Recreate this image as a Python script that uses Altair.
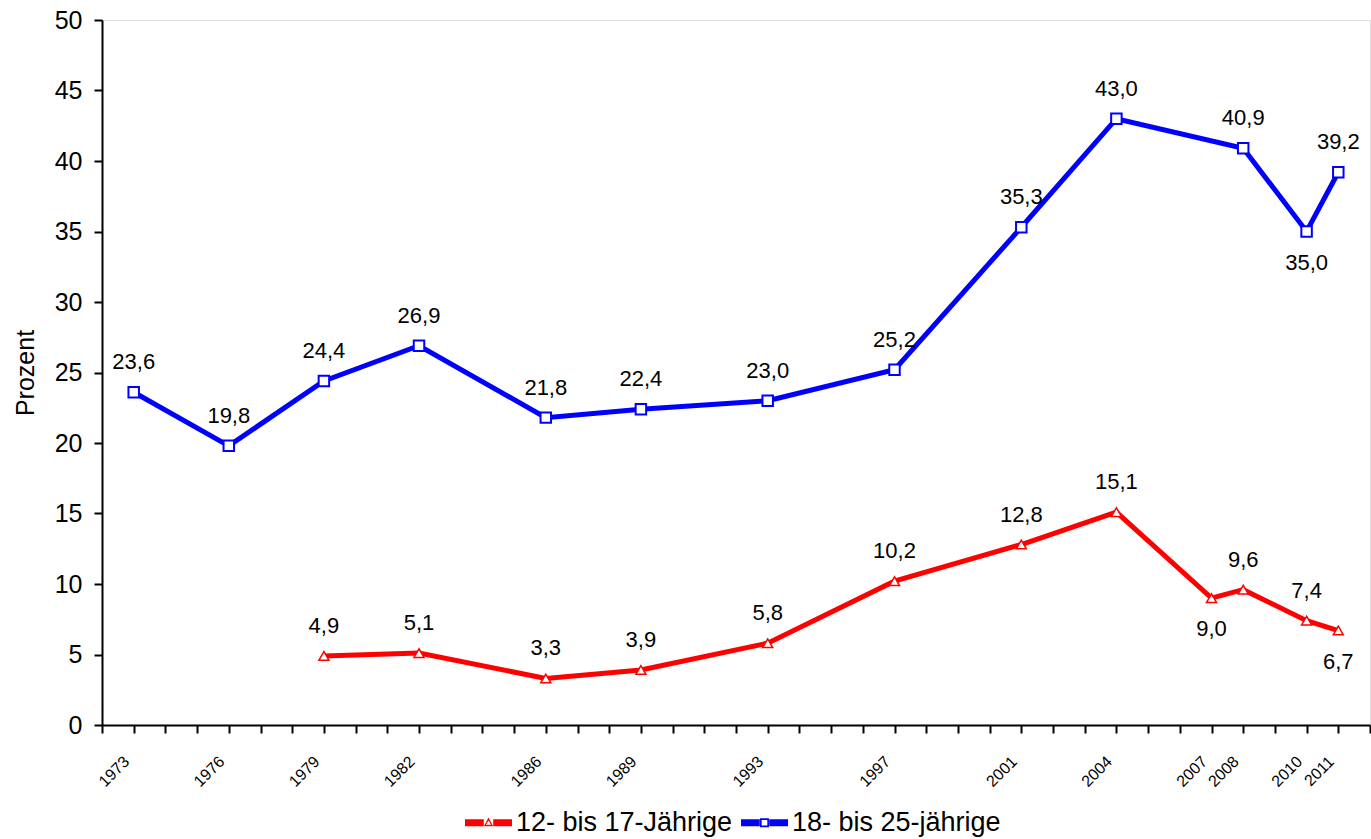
import altair as alt
import pandas as pd

# ---- data ----
SERIES = ["12- bis 17-Jährige", "18- bis 25-jährige"]
COLORS = ["#FF0000", "#0000FF"]

YEARS_1217 = [1979, 1982, 1986, 1989, 1993, 1997, 2001, 2004, 2007, 2008, 2010, 2011]
VALUES_1217 = [4.9, 5.1, 3.3, 3.9, 5.8, 10.2, 12.8, 15.1, 9.0, 9.6, 7.4, 6.7]

YEARS_1825 = [1973, 1976, 1979, 1982, 1986, 1989, 1993, 1997, 2001, 2004, 2008, 2010, 2011]
VALUES_1825 = [23.6, 19.8, 24.4, 26.9, 21.8, 22.4, 23.0, 25.2, 35.3, 43.0, 40.9, 35.0, 39.2]

# years whose value label sits below the point
BELOW_1217 = [2007, 2011]
BELOW_1825 = [2010]

TICK_LABEL_YEARS = [1973, 1976, 1979, 1982, 1986, 1989, 1993, 1997, 2001, 2004, 2007, 2008, 2010, 2011]
TICK_YEARS = list(range(1972, 2013))
Y_TICKS = list(range(0, 51, 5))

rows = []
for yr, v in zip(YEARS_1217, VALUES_1217):
    rows.append({"jahr": yr, "wert": v, "gruppe": SERIES[0], "lage": "unten" if yr in BELOW_1217 else "oben"})
for yr, v in zip(YEARS_1825, VALUES_1825):
    rows.append({"jahr": yr, "wert": v, "gruppe": SERIES[1], "lage": "unten" if yr in BELOW_1825 else "oben"})
df = pd.DataFrame(rows)

FONT = "Liberation Sans"

label_list = ",".join(str(y) for y in TICK_LABEL_YEARS)
x_enc = alt.X(
    "jahr:Q",
    scale=alt.Scale(domain=[1972, 2012], nice=False, zero=False),
    axis=alt.Axis(
        values=TICK_YEARS, format="d",
        labelExpr=f"indexof([{label_list}], datum.value) >= 0 ? datum.label : ''",
        labelAngle=-45, labelFontSize=16, labelFont=FONT, labelColor="black",
        labelPadding=20, labelOffset=-13, labelFlush=False, labelOverlap=False,
        tickSize=8, tickWidth=2, tickColor="black",
        domainWidth=2, domainColor="black", grid=False, title=None,
    ),
)
y_enc = alt.Y(
    "wert:Q",
    scale=alt.Scale(domain=[0, 50], nice=False),
    axis=alt.Axis(
        values=Y_TICKS, labelFontSize=25, labelFont=FONT, labelColor="black",
        labelPadding=12, tickSize=8, tickWidth=2, tickColor="black",
        domainWidth=2, domainColor="black", grid=False,
        title="Prozent", titleFont=FONT, titleFontSize=25, titleFontWeight="normal",
        titleColor="black", titlePadding=16,
    ),
)

base = alt.Chart(df).transform_calculate(
    label="replace(format(datum.wert, '.1f'), '.', ',')"
)

# legend symbols: line with marker (filled outline shapes, holes via reverse winding)
BAR_L = "M-0.2,-0.15V0.15H-1V-0.15Z"
BAR_R = "M0.2,-0.15H1V0.15H0.2Z"
TRI = "M0,-0.22L0.2,0.15H-0.2Z M0,-0.1L-0.11,0.09H0.11Z"
SQ = "M-0.19,-0.19H0.19V0.19H-0.19Z M-0.12,-0.12V0.12H0.12V-0.12Z"
SYM_TRI = BAR_L + " " + BAR_R + " " + TRI
SYM_SQ = BAR_L + " " + BAR_R + " " + SQ

leg = alt.Legend(
    orient="none", legendX=363, legendY=779, direction="horizontal", title=None,
    labelFontSize=27, labelFont=FONT, labelColor="black", labelLimit=400,
    symbolSize=2209, symbolOpacity=1, symbolStrokeWidth=0,
    labelOffset=4, columnPadding=8, padding=0,
)

# invisible (size 0) layer that carries the legend
legend_layer = base.mark_point(filled=True, opacity=1).encode(
    x=x_enc, y=y_enc,
    color=alt.Color("gruppe:N", scale=alt.Scale(domain=SERIES, range=COLORS), legend=leg),
    shape=alt.Shape("gruppe:N", scale=alt.Scale(domain=SERIES, range=[SYM_TRI, SYM_SQ]), legend=None),
    size=alt.value(0),
)

lines = base.mark_line(strokeWidth=5).encode(
    x=x_enc, y=y_enc,
    stroke=alt.Stroke("gruppe:N", scale=alt.Scale(domain=SERIES, range=COLORS), legend=None),
)

pts_red = base.transform_filter(alt.datum.gruppe == SERIES[0]).mark_point(
    shape="triangle-up", size=100, filled=True, fill="white", stroke=COLORS[0],
    strokeWidth=1.5, opacity=1,
).encode(x=x_enc, y=y_enc)

pts_blue = base.transform_filter(alt.datum.gruppe == SERIES[1]).mark_point(
    shape="square", size=110, filled=True, fill="white", stroke=COLORS[1],
    strokeWidth=2, opacity=1,
).encode(x=x_enc, y=y_enc)

txt_above = base.transform_filter(alt.datum.lage == "oben").mark_text(
    dy=-30, fontSize=22, font=FONT, color="black"
).encode(x=x_enc, y=y_enc, text="label:N")

txt_below = base.transform_filter(alt.datum.lage == "unten").mark_text(
    dy=31, fontSize=22, font=FONT, color="black"
).encode(x=x_enc, y=y_enc, text="label:N")

chart = alt.layer(legend_layer, lines, pts_red, pts_blue, txt_above, txt_below).properties(
    width=1268, height=705,
    autosize=alt.AutoSizeParams(type="none"),
    padding={"left": 102, "top": 20, "right": 1, "bottom": 114},
).configure_view(stroke=None).configure(font=FONT)

chart.save("out.html", embed_options={"renderer": "svg", "actions": False})
